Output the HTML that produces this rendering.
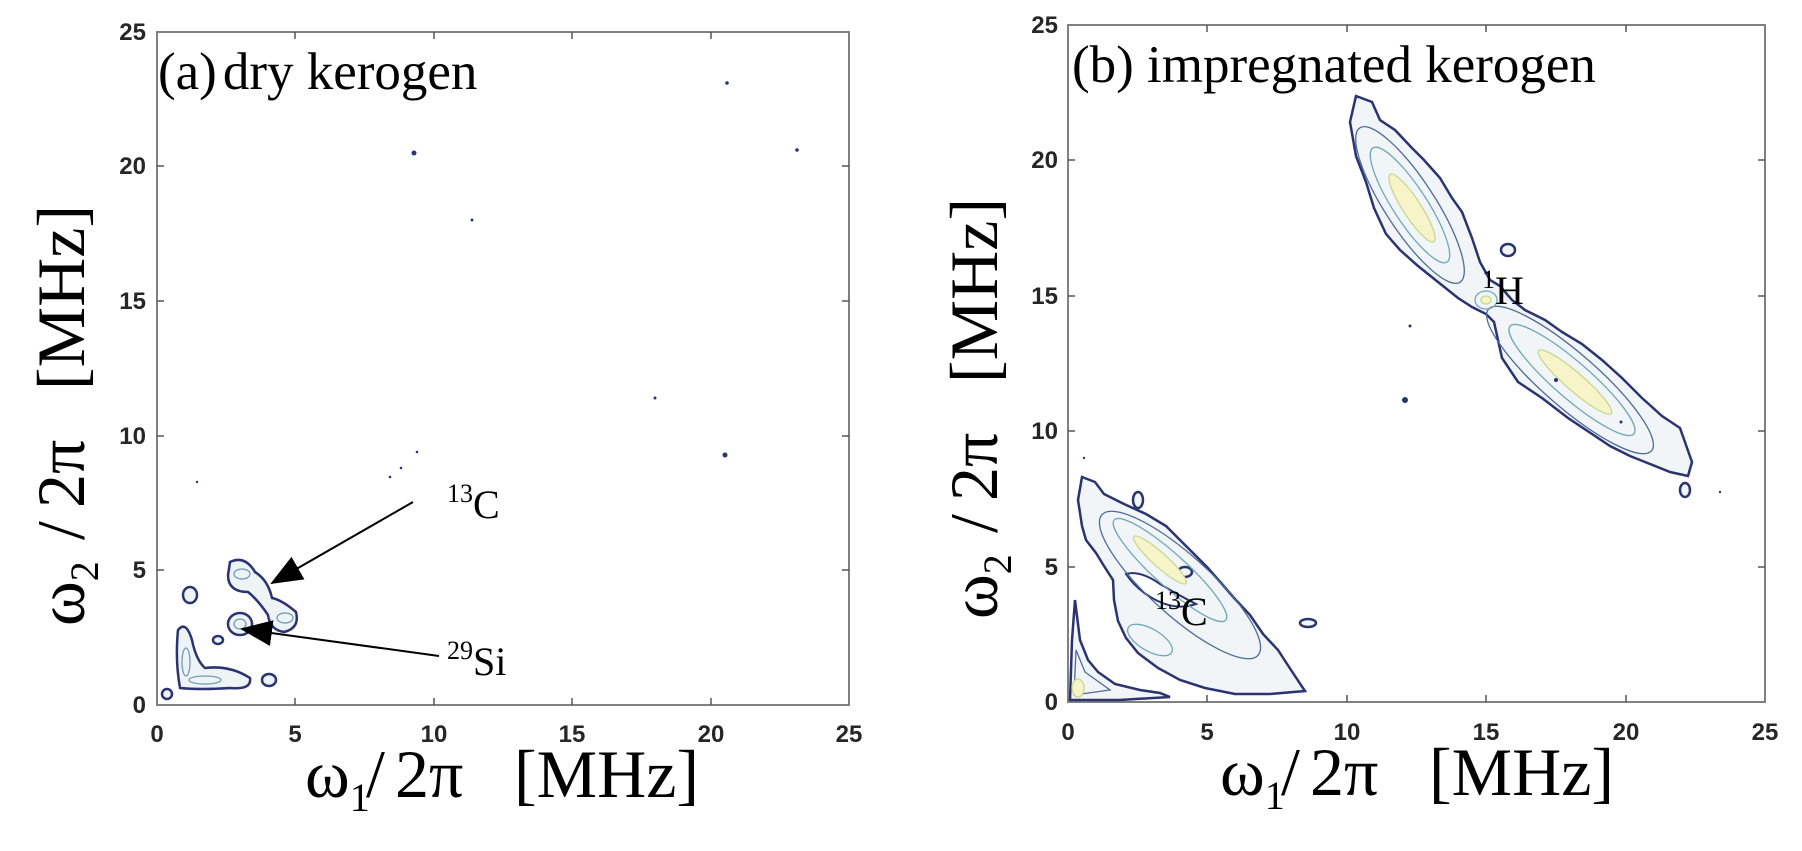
<!DOCTYPE html>
<html><head><meta charset="utf-8"><style>
html,body{margin:0;padding:0;background:#fff;}
svg{display:block}
.t{font-family:"Liberation Sans",Arial,sans-serif;font-weight:bold;font-size:24px;fill:#262626}
.s{font-family:"Liberation Serif","Times New Roman",serif;fill:#000}
</style></head><body>
<svg width="1802" height="851" viewBox="0 0 1802 851" xmlns="http://www.w3.org/2000/svg">
<defs>
<marker id="ah" markerWidth="32" markerHeight="26" refX="30" refY="13" orient="auto" markerUnits="userSpaceOnUse" viewBox="0 0 32 26">
<path d="M0,0 L32,13 L0,26 z" fill="#000"/></marker>
</defs>
<!-- LEFT AXES -->
<rect x="157" y="32" width="692" height="673" fill="none" stroke="#808080" stroke-width="2"/>
<g stroke="#555" stroke-width="1.5">
<line x1="295" y1="705" x2="295" y2="698"/><line x1="434" y1="705" x2="434" y2="698"/><line x1="572" y1="705" x2="572" y2="698"/><line x1="711" y1="705" x2="711" y2="698"/>
<line x1="295" y1="32" x2="295" y2="39"/><line x1="434" y1="32" x2="434" y2="39"/><line x1="572" y1="32" x2="572" y2="39"/><line x1="711" y1="32" x2="711" y2="39"/>
<line x1="157" y1="570" x2="164" y2="570"/><line x1="157" y1="436" x2="164" y2="436"/><line x1="157" y1="301" x2="164" y2="301"/><line x1="157" y1="166" x2="164" y2="166"/>
<line x1="849" y1="570" x2="842" y2="570"/><line x1="849" y1="436" x2="842" y2="436"/><line x1="849" y1="301" x2="842" y2="301"/><line x1="849" y1="166" x2="842" y2="166"/>
</g>
<g class="t" text-anchor="end">
<text x="146" y="713">0</text><text x="146" y="578">5</text><text x="146" y="444">10</text><text x="146" y="309">15</text><text x="146" y="174">20</text><text x="146" y="40">25</text>
</g>
<g class="t" text-anchor="middle">
<text x="157" y="742">0</text><text x="295" y="742">5</text><text x="434" y="742">10</text><text x="572" y="742">15</text><text x="711" y="742">20</text><text x="849" y="742">25</text>
</g>
<!-- left contours -->
<g fill="#eef3f6" stroke="#2b3470" stroke-width="2.5">
<path d="M230,562 Q245,555 255,572 Q268,580 272,598 Q282,600 296,612 Q300,628 284,632 Q270,630 268,615 Q258,600 248,592 Q228,592 228,575 Z"/>
<ellipse cx="240" cy="624" rx="12" ry="11"/>
<ellipse cx="190" cy="595" rx="7" ry="8"/>
<path d="M178,630 Q186,620 192,640 Q196,660 205,668 Q230,665 250,678 Q252,690 230,688 Q200,690 180,688 Q175,660 178,630 Z"/>
<ellipse cx="269" cy="680" rx="7" ry="6"/>
<ellipse cx="167" cy="694" rx="5" ry="5"/>
<ellipse cx="218" cy="640" rx="5" ry="4"/>
</g>
<g fill="none" stroke="#6f9cb8" stroke-width="1.3">
<ellipse cx="242" cy="574" rx="8" ry="5"/><ellipse cx="285" cy="618" rx="8" ry="5"/><ellipse cx="240" cy="624" rx="6" ry="5"/>
<ellipse cx="186" cy="662" rx="4" ry="14"/><ellipse cx="205" cy="680" rx="16" ry="4"/>
</g>
<g fill="#2b3470">
<circle cx="414" cy="153" r="2.5"/><circle cx="472" cy="220" r="1.5"/><circle cx="727" cy="83" r="1.8"/><circle cx="797" cy="150" r="1.8"/>
<circle cx="655" cy="398" r="1.5"/><circle cx="725" cy="455" r="2.5"/><circle cx="417" cy="452" r="1.3"/><circle cx="401" cy="468" r="1.3"/><circle cx="390" cy="477" r="1.3"/><circle cx="197" cy="482" r="1.2"/>
</g>
<!-- arrows -->
<line x1="413" y1="502" x2="272" y2="583" stroke="#000" stroke-width="2" marker-end="url(#ah)"/>
<line x1="439" y1="656" x2="242" y2="629" stroke="#000" stroke-width="2" marker-end="url(#ah)"/>
<text class="s" x="447" y="518" font-size="40"><tspan font-size="26" dy="-16">13</tspan><tspan dy="16">C</tspan></text>
<text class="s" x="447" y="675" font-size="40"><tspan font-size="26" dy="-16">29</tspan><tspan dy="16">Si</tspan></text>
<text class="s" x="158" y="89" font-size="53">(a)<tspan dx="6">dry kerogen</tspan></text>
<g class="s" font-size="68">
<text x="305" y="797">ω<tspan font-size="40" dy="14">1</tspan></text>
<text x="366" y="797">/</text><text x="395" y="797">2π</text><text x="514" y="797">[MHz]</text>
</g>
<g class="s" font-size="68" transform="translate(84,0) rotate(-90)">
<text x="-626" y="0">ω<tspan font-size="40" dy="14">2</tspan></text>
<text x="-540" y="0">/</text><text x="-508" y="0">2π</text><text x="-390" y="0">[MHz]</text>
</g>

<!-- RIGHT AXES -->
<rect x="1068" y="25" width="697" height="677" fill="none" stroke="#808080" stroke-width="2"/>
<g stroke="#555" stroke-width="1.5">
<line x1="1207" y1="702" x2="1207" y2="695"/><line x1="1347" y1="702" x2="1347" y2="695"/><line x1="1486" y1="702" x2="1486" y2="695"/><line x1="1626" y1="702" x2="1626" y2="695"/>
<line x1="1207" y1="25" x2="1207" y2="32"/><line x1="1347" y1="25" x2="1347" y2="32"/><line x1="1486" y1="25" x2="1486" y2="32"/><line x1="1626" y1="25" x2="1626" y2="32"/>
<line x1="1068" y1="567" x2="1075" y2="567"/><line x1="1068" y1="431" x2="1075" y2="431"/><line x1="1068" y1="296" x2="1075" y2="296"/><line x1="1068" y1="160" x2="1075" y2="160"/>
<line x1="1765" y1="567" x2="1758" y2="567"/><line x1="1765" y1="431" x2="1758" y2="431"/><line x1="1765" y1="296" x2="1758" y2="296"/><line x1="1765" y1="160" x2="1758" y2="160"/>
</g>
<g class="t" text-anchor="end">
<text x="1058" y="710">0</text><text x="1058" y="575">5</text><text x="1058" y="439">10</text><text x="1058" y="304">15</text><text x="1058" y="168">20</text><text x="1058" y="33">25</text>
</g>
<g class="t" text-anchor="middle">
<text x="1068" y="740">0</text><text x="1207" y="740">5</text><text x="1347" y="740">10</text><text x="1486" y="740">15</text><text x="1626" y="740">20</text><text x="1765" y="740">25</text>
</g>
<!-- H band -->
<g fill="#f1f5f7" stroke="#2b3470" stroke-width="2.5">
<path d="M1356,96 L1372,102 L1380,120 L1395,130 L1412,148 L1424,160 L1440,178 L1452,198 L1462,212 L1472,238 L1480,262 L1490,280 L1500,286 L1512,300 L1525,310 L1545,320 L1562,332 L1582,344 L1602,360 L1622,378 L1642,398 L1662,416 L1680,428 L1692,462 L1688,476 L1670,472 L1650,464 L1630,456 L1610,446 L1592,434 L1568,418 L1542,398 L1518,382 L1502,358 L1494,322 L1486,314 L1472,307 L1458,298 L1438,282 L1418,266 L1400,250 L1386,234 L1374,208 L1366,182 L1356,156 L1350,122 Z"/>
<ellipse cx="1508" cy="250" rx="7" ry="6"/>
<ellipse cx="1685" cy="490" rx="5" ry="7"/>
</g>
<g fill="none" stroke="#4d6b98" stroke-width="1.3">
<ellipse cx="1410" cy="205" rx="92" ry="25" transform="rotate(57 1410 205)"/>
<ellipse cx="1570" cy="380" rx="108" ry="27" transform="rotate(41 1570 380)"/>
</g>
<g fill="none" stroke="#6fa8b8" stroke-width="1.3">
<ellipse cx="1410" cy="205" rx="68" ry="17" transform="rotate(57 1410 205)"/>
<ellipse cx="1572" cy="380" rx="82" ry="18" transform="rotate(41 1572 380)"/>
<ellipse cx="1486" cy="300" rx="11" ry="9"/>
</g>
<g fill="#f6f4c8" stroke="#c8d890" stroke-width="1.3">
<ellipse cx="1412" cy="208" rx="40" ry="9" transform="rotate(57 1412 208)"/>
<ellipse cx="1575" cy="382" rx="48" ry="9" transform="rotate(41 1575 382)"/>
<ellipse cx="1486" cy="300" rx="5" ry="4"/>
</g>
<g fill="#2b3470"><circle cx="1405" cy="400" r="3"/><circle cx="1556" cy="380" r="2"/><circle cx="1621" cy="422" r="1.5"/><circle cx="1410" cy="326" r="1.5"/><circle cx="1720" cy="492" r="1.2"/><circle cx="1084" cy="458" r="1.2"/></g>
<!-- C region -->
<g fill="#f1f5f7" stroke="#2b3470" stroke-width="2.5">
<path d="M1082,477 L1095,482 L1104,494 L1124,504 L1146,514 L1166,526 L1186,546 L1207,567 L1222,584 L1235,599 L1250,615 L1263,634 L1278,650 L1291,670 L1305,691 L1270,694 L1235,694 L1205,688 L1180,680 L1158,668 L1138,653 L1126,638 L1118,621 L1114,600 L1113,580 L1104,566 L1096,553 L1086,540 L1082,526 L1078,500 Z"/>
<path d="M1070,700 L1072,640 L1075,600 L1080,640 L1088,660 L1098,672 L1115,684 L1140,690 L1160,693 L1170,697 L1120,700 Z"/>
<ellipse cx="1138" cy="500" rx="5" ry="8"/><ellipse cx="1185" cy="572" rx="7" ry="5"/><ellipse cx="1308" cy="623" rx="8" ry="4"/>
</g>
<path d="M1126,574 Q1140,570 1160,584 Q1180,596 1196,604 Q1178,610 1160,602 Q1138,592 1126,574 Z" fill="#fff" stroke="#2b3470" stroke-width="2"/>
<g fill="none" stroke="#4d6b98" stroke-width="1.3">
<ellipse cx="1180" cy="585" rx="105" ry="30" transform="rotate(42 1180 585)"/>
<path d="M1074,695 L1076,650 L1085,672 L1110,690 Z"/>
</g>
<g fill="none" stroke="#6fa8b8" stroke-width="1.3">
<ellipse cx="1170" cy="570" rx="75" ry="16" transform="rotate(42 1170 570)"/>
<ellipse cx="1150" cy="640" rx="25" ry="11" transform="rotate(30 1150 640)"/>
</g>
<g fill="#f6f4c8" stroke="#c8d890" stroke-width="1.3">
<ellipse cx="1160" cy="560" rx="35" ry="7" transform="rotate(42 1160 560)"/>
<ellipse cx="1078" cy="688" rx="6" ry="9"/>
</g>
<text class="s" x="1482" y="304" font-size="40"><tspan font-size="26" dy="-16">1</tspan><tspan dy="16">H</tspan></text>
<text class="s" x="1155" y="625" font-size="40"><tspan font-size="26" dy="-16">13</tspan><tspan dy="16">C</tspan></text>
<text class="s" x="1072" y="82" font-size="53">(b) impregnated kerogen</text>
<g class="s" font-size="68">
<text x="1220" y="795">ω<tspan font-size="40" dy="14">1</tspan></text>
<text x="1281" y="795">/</text><text x="1310" y="795">2π</text><text x="1429" y="795">[MHz]</text>
</g>
<g class="s" font-size="68" transform="translate(997,0) rotate(-90)">
<text x="-619" y="0">ω<tspan font-size="40" dy="14">2</tspan></text>
<text x="-533" y="0">/</text><text x="-501" y="0">2π</text><text x="-383" y="0">[MHz]</text>
</g>
</svg>
</body></html>
